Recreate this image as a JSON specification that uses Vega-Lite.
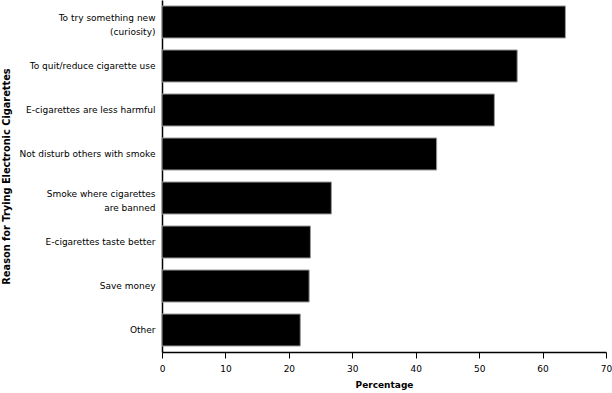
{
  "$schema": "https://vega.github.io/schema/vega-lite/v6.json",
  "autosize": {"type": "none"},
  "padding": {"left": 162, "top": 0, "right": 6, "bottom": 41},
  "width": 444,
  "height": 352,
  "background": "white",
  "data": {
    "values": [
      {"reason": "To try something new|(curiosity)", "pct": 63.6},
      {"reason": "To quit/reduce cigarette use", "pct": 56.0},
      {"reason": "E-cigarettes are less harmful", "pct": 52.4},
      {"reason": "Not disturb others with smoke", "pct": 43.3},
      {"reason": "Smoke where cigarettes|are banned", "pct": 26.7},
      {"reason": "E-cigarettes taste better", "pct": 23.4},
      {"reason": "Save money", "pct": 23.2},
      {"reason": "Other", "pct": 21.8}
    ]
  },
  "mark": {"type": "bar", "color": "black", "stroke": "#999999", "strokeWidth": 1},
  "encoding": {
    "y": {
      "field": "reason",
      "type": "nominal",
      "sort": null,
      "scale": {"paddingInner": 0.273, "paddingOuter": 0.136},
      "axis": {
        "title": "Reason for Trying Electronic Cigarettes",
        "titleFont": "DejaVu Sans",
        "titleFontSize": 9.8,
        "titleFontWeight": "bold",
        "titleColor": "black",
        "titleX": -151,
        "labelExpr": "split(datum.label, '|')",
        "labelFont": "DejaVu Sans",
        "labelFontSize": 9,
        "labelLineHeight": 14,
        "labelOffset": {"condition": {"test": "indexof(datum.value, '|') >= 0", "value": -4}, "value": 0},
        "labelColor": "black",
        "labelPadding": 7,
        "labelLimit": 200,
        "ticks": false,
        "domainColor": "black",
        "domainWidth": 1.5
      }
    },
    "x": {
      "field": "pct",
      "type": "quantitative",
      "scale": {"domain": [0, 70], "nice": false},
      "axis": {
        "title": "Percentage",
        "titleFont": "DejaVu Sans",
        "titleFontSize": 9,
        "titleFontWeight": "bold",
        "titleColor": "black",
        "titlePadding": 7,
        "values": [0, 10, 20, 30, 40, 50, 60, 70],
        "grid": false,
        "labelFont": "DejaVu Sans",
        "labelFontSize": 9,
        "labelColor": "black",
        "labelPadding": 6,
        "tickColor": "black",
        "tickSize": 6,
        "domainColor": "black",
        "domainWidth": 1.5,
        "labelFlush": false
      }
    }
  },
  "config": {"view": {"stroke": null}}
}
